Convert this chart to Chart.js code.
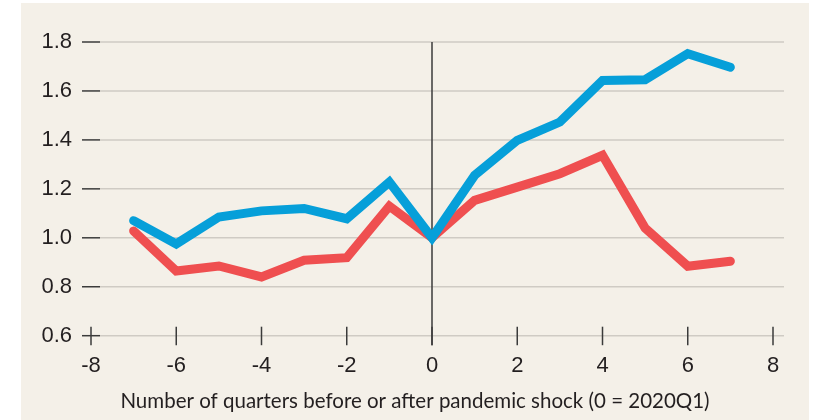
<!DOCTYPE html>
<html>
<head>
<meta charset="utf-8">
<script src="https://cdn.jsdelivr.net/npm/chart.js@4"></script>
<style>
  html, body { margin: 0; padding: 0; background: #ffffff; }
  #panel { position: absolute; left: 21px; top: 3px; width: 788px; height: 417px; background: #f4f0e8; }
  #chart { display: block; }
</style>
</head>
<body>
<div id="panel"><canvas id="chart" width="788" height="417"></canvas></div>
<script>
const quarters = [-7, -6, -5, -4, -3, -2, -1, 0, 1, 2, 3, 4, 5, 6, 7];
const blueSeries = [1.07, 0.975, 1.085, 1.11, 1.12, 1.078, 1.228, 1.0, 1.255, 1.398, 1.473, 1.643, 1.646, 1.752, 1.697];
const redSeries = [1.028, 0.864, 0.885, 0.84, 0.908, 0.919, 1.129, 1.0, 1.153, 1.207, 1.262, 1.337, 1.04, 0.884, 0.904];
const xTicks = [-8, -6, -4, -2, 0, 2, 4, 6, 8];
const yTicks = [0.6, 0.8, 1.0, 1.2, 1.4, 1.6, 1.8];
const xTitle = 'Number of quarters before or after pandemic shock (0 = 2020Q1)';

const ink = '#231f20';

// gridlines, tick marks and the zero line, drawn under the series
const axisMarks = {
  id: 'axisMarks',
  beforeDatasetsDraw(chart) {
    const { ctx, chartArea: a, scales: { x, y } } = chart;
    ctx.save();
    ctx.lineWidth = 1.5;
    ctx.strokeStyle = '#cfcbc4';
    yTicks.forEach(v => {
      const py = y.getPixelForValue(v);
      ctx.beginPath();
      ctx.moveTo(a.left + 9, py);
      ctx.lineTo(a.right + 11, py);
      ctx.stroke();
    });
    ctx.strokeStyle = '#3b3b3b';
    yTicks.forEach(v => {
      const py = y.getPixelForValue(v);
      ctx.beginPath();
      ctx.moveTo(a.left - 9, py);
      ctx.lineTo(a.left + 9, py);
      ctx.stroke();
    });
    xTicks.forEach(v => {
      const px = x.getPixelForValue(v);
      ctx.beginPath();
      ctx.moveTo(px, a.bottom - 9);
      ctx.lineTo(px, a.bottom + 9.5);
      ctx.stroke();
    });
    const p0 = x.getPixelForValue(0);
    ctx.beginPath();
    ctx.moveTo(p0, a.top);
    ctx.lineTo(p0, a.bottom + 9.5);
    ctx.stroke();
    ctx.restore();
  }
};

const lineStyle = {
  borderWidth: 9,
  pointRadius: 0,
  tension: 0,
  borderCapStyle: 'round',
  borderJoinStyle: 'miter',
  fill: false
};

new Chart(document.getElementById('chart'), {
  type: 'line',
  data: {
    datasets: [
      { ...lineStyle, label: 'blue', borderColor: '#069fd9',
        data: quarters.map((q, i) => ({ x: q, y: blueSeries[i] })) },
      { ...lineStyle, label: 'red', borderColor: '#ef4f50',
        data: quarters.map((q, i) => ({ x: q, y: redSeries[i] })) }
    ]
  },
  options: {
    responsive: false,
    animation: false,
    layout: { padding: { top: 39, right: 0, left: 0, bottom: 0 } },
    plugins: {
      legend: { display: false },
      tooltip: { enabled: false },
      title: {
        display: true,
        position: 'bottom',
        text: xTitle,
        color: ink,
        font: { family: 'Lato', size: 20.5, weight: 'normal', lineHeight: 1.2 },
        padding: { top: 0, bottom: 6 }
      }
    },
    scales: {
      x: {
        type: 'linear',
        min: -8,
        max: 8,
        grid: { display: false, drawTicks: false },
        border: { display: false },
        afterBuildTicks: s => { s.ticks = xTicks.map(v => ({ value: v })); },
        afterFit: s => { s.height = 53.7; },
        ticks: {
          padding: 17,
          color: ink,
          font: { family: 'Liberation Sans', size: 22 },
          callback: v => String(v)
        }
      },
      y: {
        min: 0.6,
        max: 1.8,
        grid: { display: false, drawTicks: false },
        border: { display: false },
        afterBuildTicks: s => { s.ticks = yTicks.map(v => ({ value: v })); },
        afterFit: s => { s.width = 70; },
        ticks: {
          padding: 19,
          color: ink,
          font: { family: 'Liberation Sans', size: 22 },
          callback: v => v.toFixed(1)
        }
      },
      // empty right-hand margin so the bottom title centres on the whole panel
      yRight: {
        position: 'right',
        grid: { display: false, drawTicks: false },
        border: { display: false },
        ticks: { display: false },
        afterFit: s => { s.width = 36; }
      }
    }
  },
  plugins: [axisMarks]
});
</script>
</body>
</html>
